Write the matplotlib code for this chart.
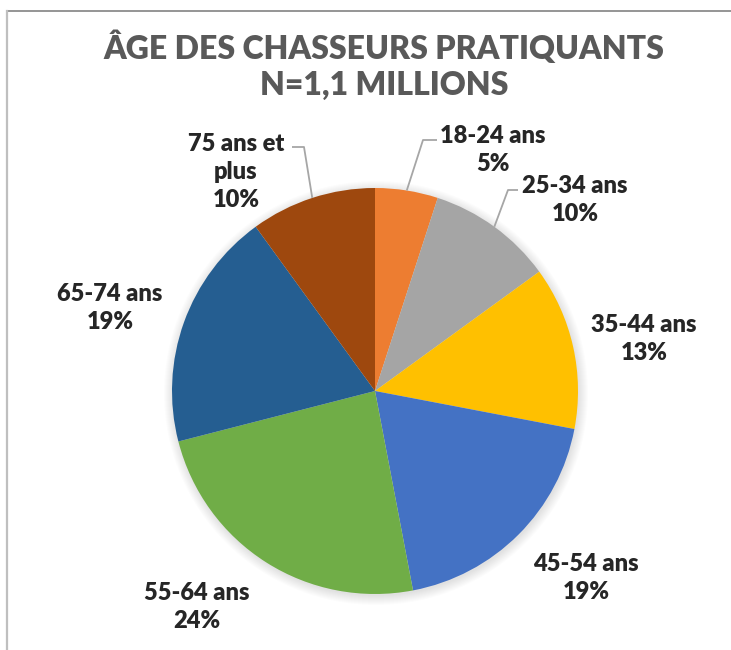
import numpy as np
import matplotlib
matplotlib.use("Agg")
import matplotlib.pyplot as plt
from matplotlib.patches import Circle

# données
tranches = ["18-24 ans", "25-34 ans", "35-44 ans", "45-54 ans",
            "55-64 ans", "65-74 ans", "75 ans et\nplus"]
parts = [5, 10, 13, 19, 24, 19, 10]
couleurs = ["#ED7D31", "#A5A5A5", "#FFC000", "#4472C4",
            "#70AD47", "#255E91", "#9E480E"]
titre = "ÂGE DES CHASSEURS PRATIQUANTS\nN=1,1 MILLIONS"

W, H = 731, 650
CX, CY, R = 375, H - 391, 203

# position des étiquettes (pixels, origine en haut à gauche)
pos_etiquettes = [(493, 150), (575, 200), (644, 339), (586, 578),
                  (197, 607), (110, 308), (236, 172)]
# coude des lignes de rappel : (x_texte, x_coude, y)
rappels = {0: (437, 423, 140), 1: (518, 508, 190), 6: (292, 304, 147)}

plt.rcParams["font.family"] = ["Lato", "DejaVu Sans"]

fig = plt.figure(figsize=(W / 100, H / 100), dpi=100)
ax = fig.add_axes([0, 0, 1, 1])

# ombre douce autour du camembert
for i in range(10):
    ax.add_patch(Circle((CX + 1, CY - 2), R + 9 - i, color="black",
                        alpha=0.012, lw=0, zorder=1))

wedges, _ = ax.pie(parts, colors=couleurs, startangle=90, counterclock=False,
                   radius=R, center=(CX, CY), frame=True,
                   wedgeprops=dict(linewidth=0, zorder=2))
ax.set_xlim(0, W)
ax.set_ylim(0, H)
ax.set_aspect("equal")
ax.axis("off")

for i, (w, lab, v) in enumerate(zip(wedges, tranches, parts)):
    px, py = pos_etiquettes[i]
    ax.text(px, H - py, f"{lab}\n{v}%", ha="center", va="center",
            fontsize=17, fontweight="heavy", color="#262626",
            linespacing=1.35, zorder=5)
    if i in rappels:
        xt, xc, yl = rappels[i]
        ang = np.deg2rad((w.theta1 + w.theta2) / 2)
        ex, ey = CX + R * np.cos(ang), CY + R * np.sin(ang)
        ax.plot([xt, xc, ex], [H - yl, H - yl, ey], color="#A6A6A6",
                lw=1.3, zorder=4, solid_capstyle="butt")

ax.text(384, H - 65, titre, ha="center", va="center", fontsize=23,
        fontweight="heavy", color="#595959", linespacing=1.3)

# cadre
ax.plot([7, W], [H - 11, H - 11], color="#8C8C8C", lw=1.3, zorder=6)
ax.plot([7, 7], [H - 11, 0], color="#BFBFBF", lw=1.6, zorder=6)

fig.savefig("out.png", dpi=100)
